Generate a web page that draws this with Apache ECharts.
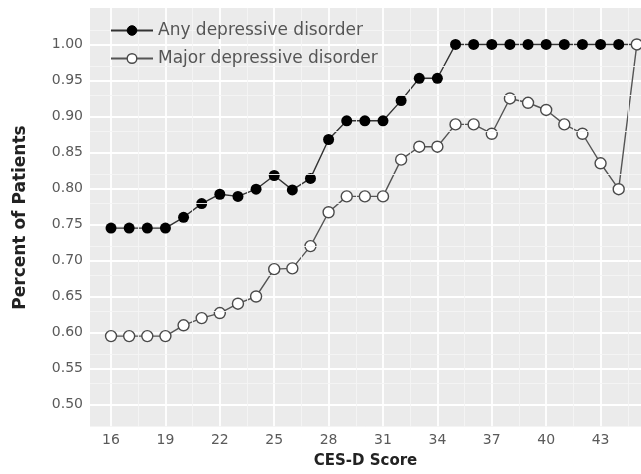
<!DOCTYPE html>
<html>
<head>
<meta charset="utf-8">
<script src="https://cdn.jsdelivr.net/npm/echarts@6/dist/echarts.min.js"></script>
<style>
  html, body { margin: 0; padding: 0; background: #ffffff; }
  #chart { width: 641px; height: 474px; }
</style>
</head>
<body>
<div id="chart"></div>
<script>
// CES-D score (x) and share of patients meeting each criterion (y)
const scores = [16, 17, 18, 19, 20, 21, 22, 23, 24, 25, 26, 27, 28, 29, 30,
                31, 32, 33, 34, 35, 36, 37, 38, 39, 40, 41, 42, 43, 44, 45];

const anyDepressive = [0.745, 0.745, 0.745, 0.745, 0.760, 0.779, 0.792, 0.789, 0.799, 0.818,
                       0.798, 0.814, 0.868, 0.894, 0.894, 0.894, 0.922, 0.953, 0.953, 1.000,
                       1.000, 1.000, 1.000, 1.000, 1.000, 1.000, 1.000, 1.000, 1.000, 1.000];

const majorDepressive = [0.595, 0.595, 0.595, 0.595, 0.610, 0.620, 0.627, 0.640, 0.650, 0.688,
                         0.689, 0.720, 0.767, 0.789, 0.789, 0.789, 0.840, 0.858, 0.858, 0.889,
                         0.889, 0.876, 0.925, 0.919, 0.909, 0.889, 0.876, 0.835, 0.799, 1.000];

const xTicks = [16, 19, 22, 25, 28, 31, 34, 37, 40, 43];
const yTicks = [0.50, 0.55, 0.60, 0.65, 0.70, 0.75, 0.80, 0.85, 0.90, 0.95, 1.00];

const seriesNames = ['Any depressive disorder', 'Major depressive disorder'];

// Minor grid lines sit halfway between the major ticks
const xMinor = [];
for (let i = 0; i < xTicks.length; i++) xMinor.push(xTicks[i] + 1.5);
const yMinor = [0.475];
for (let i = 0; i < yTicks.length; i++) yMinor.push(+(yTicks[i] + 0.025).toFixed(3));

const FONT = '"DejaVu Sans", Verdana, sans-serif';

const chart = echarts.init(document.getElementById('chart'), null, { renderer: 'canvas' });

const pairs = (ys) => scores.map((s, i) => [s, ys[i]]);

chart.setOption({
  animation: false,
  backgroundColor: '#ffffff',
  grid: {
    left: 90, right: 0, top: 8, bottom: 46,
    show: true, backgroundColor: '#ebebeb', borderWidth: 0
  },
  legend: {
    data: [
      { name: seriesNames[0], itemStyle: { color: '#000000', borderColor: '#000000', borderWidth: 1 } },
      { name: seriesNames[1], itemStyle: { color: '#ffffff', borderColor: '#4a4a4a', borderWidth: 1.4 } }
    ],
    orient: 'vertical',
    left: 105, top: 17,
    z: 10,
    itemWidth: 42, itemHeight: 12, itemGap: 11,
    textStyle: { fontFamily: FONT, fontSize: 17, color: '#555555' }
  },
  xAxis: {
    type: 'value',
    min: 14.84, max: 45.23,
    name: 'CES-D Score',
    nameLocation: 'middle', nameGap: 27,
    nameTextStyle: { fontFamily: FONT, fontSize: 15, fontWeight: 'bold', color: '#222222' },
    axisLine: { show: false },
    axisTick: { show: false, customValues: xTicks },
    axisLabel: { customValues: xTicks, fontFamily: FONT, fontSize: 14, color: '#5a5a5a', margin: 6 },
    splitLine: { show: true, lineStyle: { color: '#ffffff', width: 1.8 } }
  },
  yAxis: {
    type: 'value',
    min: 0.4688, max: 1.0506,
    name: 'Percent of Patients',
    nameLocation: 'middle', nameGap: 61,
    nameTextStyle: { fontFamily: FONT, fontSize: 17, fontWeight: 'bold', color: '#222222' },
    axisLine: { show: false },
    axisTick: { show: false, customValues: yTicks },
    axisLabel: {
      customValues: yTicks, fontFamily: FONT, fontSize: 14, color: '#5a5a5a', margin: 7,
      formatter: (v) => v.toFixed(2)
    },
    splitLine: { show: true, lineStyle: { color: '#ffffff', width: 1.8 } }
  },
  series: [
    {
      name: 'minor-grid',
      type: 'line',
      data: [],
      z: 1,
      silent: true,
      markLine: {
        silent: true,
        symbol: 'none',
        label: { show: false },
        animation: false,
        lineStyle: { color: '#f5f5f5', width: 0.9, type: 'solid' },
        data: xMinor.map((v) => ({ xAxis: v })).concat(yMinor.map((v) => ({ yAxis: v })))
      }
    },
    {
      name: seriesNames[0],
      type: 'line',
      data: pairs(anyDepressive),
      z: 3,
      symbol: 'circle',
      symbolSize: 11,
      showAllSymbol: true,
      lineStyle: { color: '#333333', width: 1.4 },
      itemStyle: { color: '#000000', borderColor: '#000000', borderWidth: 0 },
      emphasis: { disabled: true }
    },
    {
      name: seriesNames[1],
      type: 'line',
      data: pairs(majorDepressive),
      z: 4,
      symbol: 'circle',
      symbolSize: 11,
      showAllSymbol: true,
      lineStyle: { color: '#555555', width: 1.4 },
      itemStyle: { color: '#ffffff', borderColor: '#4a4a4a', borderWidth: 1.4 },
      emphasis: { disabled: true }
    }
  ]
});
</script>
</body>
</html>
